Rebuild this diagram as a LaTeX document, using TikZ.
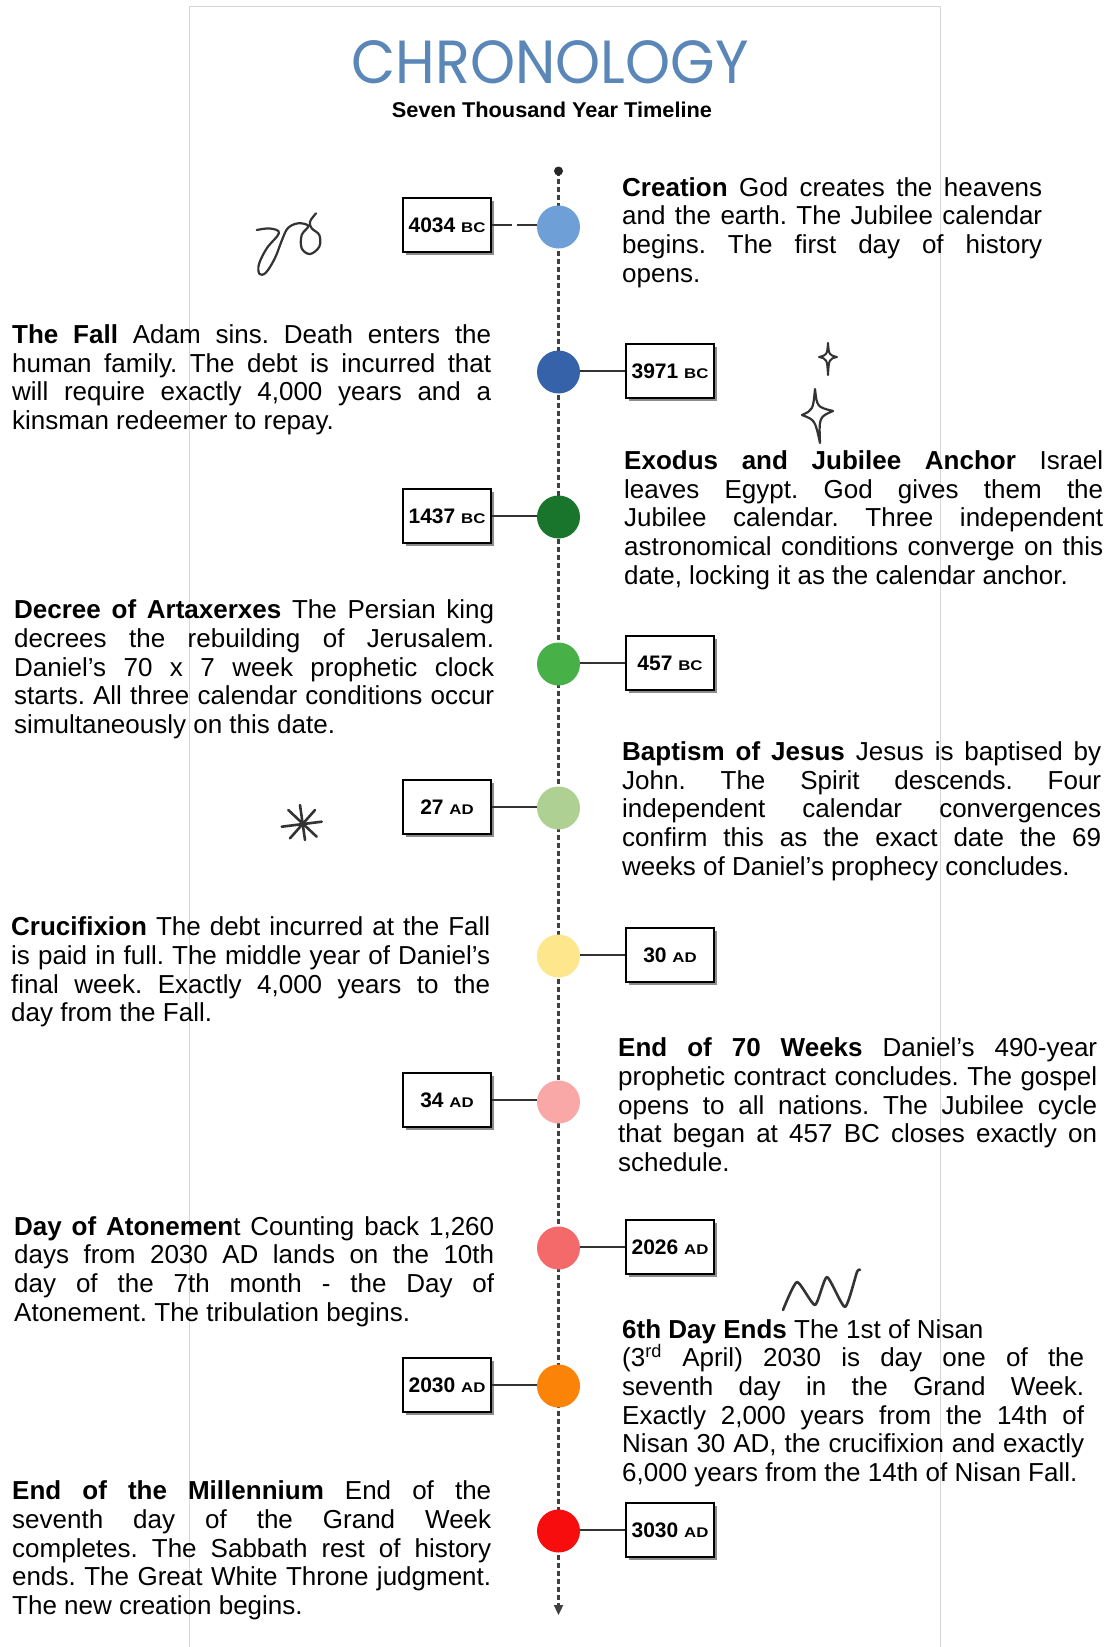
\documentclass[tikz,border=0pt]{standalone}
\usepackage{fontspec}
\setmainfont{Liberation Sans}
\newfontfamily\titlefont{Poppins}
\usepackage{graphicx}
\usetikzlibrary{shadows,arrows.meta}

\definecolor{titleblue}{HTML}{5B87B8}
\definecolor{ca}{HTML}{6E9FD6}
\definecolor{cb}{HTML}{3562A9}
\definecolor{cc}{HTML}{19752B}
\definecolor{cd}{HTML}{47B047}
\definecolor{ce}{HTML}{AED092}
\definecolor{cf}{HTML}{FDE68C}
\definecolor{cg}{HTML}{F9A7A7}
\definecolor{ch}{HTML}{F46A6A}
\definecolor{ci}{HTML}{FB8308}
\definecolor{cj}{HTML}{F70D0D}
\definecolor{framegray}{HTML}{D6D6D6}

\frenchspacing
\newcommand\rs{\spaceskip=0pt\xspaceskip=0pt\frenchspacing}
\newcommand\jl[1]{{\rs\makebox[\hsize][s]{#1}}\\}
\newcommand\dt[2]{{\fontsize{21}{21}\selectfont\bfseries #1\ \scalebox{1.2}[1]{\fontsize{14}{14}\selectfont #2}}}

\begin{document}
\begin{tikzpicture}[x=1pt,y=-1pt,
  txt/.style={anchor=base west, inner sep=0, align=left, font=\fontsize{26}{28.7}\selectfont},
  datebox/.style={draw=black, line width=1.4, fill=white, minimum width=88, minimum height=54, inner sep=0,
     drop shadow={shadow xshift=3pt, shadow yshift=-3pt, fill=black!45, opacity=1}},
  dot/.style={circle, minimum size=43, inner sep=0},
  conn/.style={line width=2.4, draw=black!80},
  doodle/.style={line width=2.2, draw=black!80, line cap=round, line join=round}]

\useasboundingbox (0,0) rectangle (1107,1647);
\fill[white] (0,0) rectangle (1107,1647);
\draw[framegray, line width=1] (189,1647) -- (189,6) -- (940,6) -- (940,1647);

% title
\node[anchor=base, text=titleblue, inner sep=0] (title) at (550,83) {\resizebox{397pt}{43pt}{\titlefont CHRONOLOGY}};
\node[anchor=base, inner sep=0] (subtitle) at (552,117) {\resizebox{320pt}{15.5pt}{\bfseries Seven Thousand Year Timeline}};

% timeline
\coordinate (tltop) at (558.5,171);
\coordinate (tlbot) at (558.5,1615);
\draw[line width=2.2, black!75, dash pattern=on 5pt off 3pt, -{Triangle[length=10pt,width=9pt]}] (tltop) -- (tlbot);
\fill[black!85] (tltop) circle (4.5);

% circles
\node[dot, fill=ca] (n1) at (558.5,227) {};
\node[dot, fill=cb] (n2) at (558.5,372) {};
\node[dot, fill=cc] (n3) at (558.5,517) {};
\node[dot, fill=cd] (n4) at (558.5,664) {};
\node[dot, fill=ce] (n5) at (558.5,808) {};
\node[dot, fill=cf] (n6) at (558.5,956) {};
\node[dot, fill=cg] (n7) at (558.5,1102) {};
\node[dot, fill=ch] (n8) at (558.5,1248) {};
\node[dot, fill=ci] (n9) at (558.5,1386) {};
\node[dot, fill=cj] (n10) at (558.5,1531) {};

% date boxes
\node[datebox] (b1) at (447,225) {\dt{4034}{BC}};
\node[datebox] (b2) at (670,371) {\dt{3971}{BC}};
\node[datebox] (b3) at (447,516) {\dt{1437}{BC}};
\node[datebox] (b4) at (670,663) {\dt{457}{BC}};
\node[datebox] (b5) at (447,807) {\dt{27}{AD}};
\node[datebox] (b6) at (670,955) {\dt{30}{AD}};
\node[datebox] (b7) at (447,1100) {\dt{34}{AD}};
\node[datebox] (b8) at (670,1247) {\dt{2026}{AD}};
\node[datebox] (b9) at (447,1385) {\dt{2030}{AD}};
\node[datebox] (b10) at (670,1530) {\dt{3030}{AD}};

% connectors
\draw[conn, dash pattern=on 20pt off 5pt] (b1.east) -- (b1.east -| n1.west);
\draw[conn] (b2.west) -- (b2.west -| n2.east);
\draw[conn] (b3.east) -- (b3.east -| n3.west);
\draw[conn] (b4.west) -- (b4.west -| n4.east);
\draw[conn] (b5.east) -- (b5.east -| n5.west);
\draw[conn] (b6.west) -- (b6.west -| n6.east);
\draw[conn] (b7.east) -- (b7.east -| n7.west);
\draw[conn] (b8.west) -- (b8.west -| n8.east);
\draw[conn] (b9.east) -- (b9.east -| n9.west);
\draw[conn] (b10.west) -- (b10.west -| n10.east);

% texts
\node[txt, text width=420] (t1) at (622,196) {\rs
\jl{\textbf{Creation} God creates the heavens}
\jl{and the earth. The Jubilee calendar}
\jl{begins. The first day of history}
opens.};

\node[txt, text width=479] (t2) at (12,343.4) {\rs
\jl{\textbf{The Fall} Adam sins. Death enters the}
\jl{human family. The debt is incurred that}
\jl{will require exactly 4,000 years and a}
kinsman redeemer to repay.};

\node[txt, text width=479] (t3) at (624,469.5) {\rs
\jl{\textbf{Exodus and Jubilee Anchor} Israel}
\jl{leaves Egypt. God gives them the}
\jl{Jubilee calendar. Three independent}
\jl{astronomical conditions converge on this}
date, locking it as the calendar anchor.};

\node[txt, text width=480] (t4) at (14,618.6) {\rs
\jl{\textbf{Decree of Artaxerxes} The Persian king}
\jl{decrees the rebuilding of Jerusalem.}
\jl{Daniel's 70 x 7 week prophetic clock}
\jl{starts. All three calendar conditions occur}
simultaneously on this date.};

\node[txt, text width=479] (t5) at (622,760.4) {\rs
\jl{\textbf{Baptism of Jesus} Jesus is baptised by}
\jl{John. The Spirit descends. Four}
\jl{independent calendar convergences}
\jl{confirm this as the exact date the 69}
weeks of Daniel's prophecy concludes.};

\node[txt, text width=479] (t6) at (11,935.8) {\rs
\jl{\textbf{Crucifixion} The debt incurred at the Fall}
\jl{is paid in full. The middle year of Daniel's}
\jl{final week. Exactly 4,000 years to the}
day from the Fall.};

\node[txt, text width=479] (t7) at (618,1056.6) {\rs
\jl{\textbf{End of 70 Weeks} Daniel's 490-year}
\jl{prophetic contract concludes. The gospel}
\jl{opens to all nations. The Jubilee cycle}
\jl{that began at 457 BC closes exactly on}
schedule.};

\node[txt, text width=480] (t8) at (14,1235.2) {\rs
\jl{\textbf{Day of Atonemen}t Counting back 1,260}
\jl{days from 2030 AD lands on the 10th}
\jl{day of the 7th month - the Day of}
Atonement. The tribulation begins.};

\node[txt, text width=462] (t9) at (622,1338.1) {\rs
\textbf{6th Day Ends} The 1st of Nisan\\
\jl{(3\textsuperscript{rd} April) 2030 is day one of the}
\jl{seventh day in the Grand Week.}
\jl{Exactly 2,000 years from the 14th of}
\jl{Nisan 30 AD, the crucifixion and exactly}
\mbox{6,000 years from the 14th of Nisan Fall.}};

\node[txt, text width=479] (t10) at (12,1499.8) {\rs
\jl{\textbf{End of the Millennium} End of the}
\jl{seventh day of the Grand Week}
\jl{completes. The Sabbath rest of history}
\jl{ends. The Great White Throne judgment.}
The new creation begins.};

% doodles
\draw[doodle] plot[smooth, tension=0.6] coordinates {(256.7,230) (270,228.5) (279,233) (267,248) (259,264) (259.5,274) (266,272.5) (275,258) (282,240) (288,228) (298.3,223.3) (308.3,226) (301.7,235) (301.7,248.3) (310,254) (319.3,246.7) (319.3,235) (311.7,228.3) (310,221.7) (316,213.3)};

\draw[doodle, line width=2] (828,343) .. controls (829,355) .. (837,357) .. controls (829,359) .. (828,375) .. controls (827,359) .. (819,357) .. controls (827,355) .. cycle;
\draw[doodle] (815,389) .. controls (817,407) .. (833,411) .. controls (819,417) .. (820,443) .. controls (815,420) .. (802,415) .. controls (813,410) .. cycle;

\draw[doodle, line width=2.6] (281.7,826.7) -- (321.7,821.7);
\draw[doodle, line width=2.6] (300,805) -- (305,840);
\draw[doodle, line width=2.6] (288.3,810) -- (316.7,836.7);
\draw[doodle, line width=2.6] (290,838.3) -- (315,810);

\draw[doodle, line width=2.6] plot[smooth, tension=0.35] coordinates {(783,1310) (797,1282) (815,1305) (827,1277) (845,1307) (857,1272) (860,1270)};

\end{tikzpicture}
\end{document}
